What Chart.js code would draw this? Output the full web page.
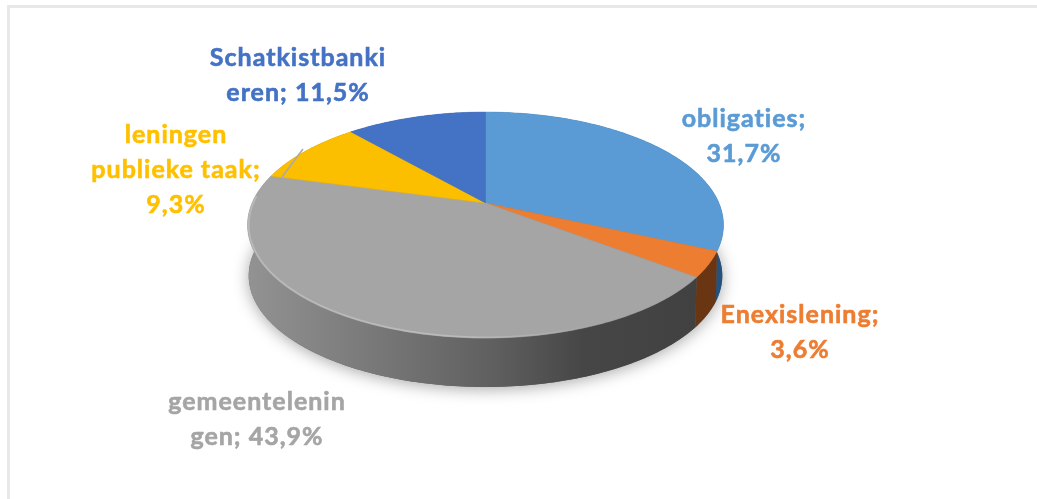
<!DOCTYPE html>
<html>
<head>
<meta charset="utf-8">
<style>
  html, body { margin: 0; padding: 0; background: #fff; overflow: hidden; }
  #frame { position: absolute; left: 7px; top: 5px; width: 1030px; height: 494px; border-top: 3px solid #e8e8e8; border-left: 3px solid #e8e8e8; box-sizing: border-box; }
  #pie { position: absolute; left: 0; top: 0; filter: blur(0.7px); }
</style>
</head>
<body>
<div id="frame"></div>
<canvas id="pie" width="1037" height="499"></canvas>
<script src="https://cdn.jsdelivr.net/npm/chart.js@4"></script>
<script>
const categories = ["obligaties", "Enexislening", "gemeenteleningen", "leningen publieke taak", "Schatkistbankieren"];
const values = [31.7, 3.6, 43.9, 9.3, 11.5];
const labelLines = [
  ["obligaties;", "31,7%"],
  ["Enexislening;", "3,6%"],
  ["gemeentelenin", "gen; 43,9%"],
  ["leningen", "publieke taak;", "9,3%"],
  ["Schatkistbanki", "eren; 11,5%"],
];
const topColors = ["#5b9bd5", "#ed7d31", "#a5a5a5", "#fcbf00", "#4472c4"];
const labelColors = ["#5b9bd5", "#ed7d31", "#a5a5a5", "#ffc000", "#4472c4"];
const wallColors = ["#23527f", "#693512", "#666666", "#8a6a00", "#2b4a80"];

// where each label block sits: centre x, centre y of first line
const labelPos = [[744, 119], [800, 315], [257, 402], [176, 135], [298, 58]];
const lineGap = 35;

// fake perspective of the tilted disc
const persp = 0.195;
const scaleX = 233.4 / 203;
const scaleY = 108.7 / 203;
const depth = 51;
const bottomShrinkX = 0.995;
const bottomShrinkY = 0.985;

function project(arc, angle) {
  const u = Math.cos(angle), v = Math.sin(angle);
  const d = 1 - persp * v;
  return {
    x: arc.x + (arc.outerRadius * scaleX * u) / d,
    y: arc.y + (arc.outerRadius * scaleY * v) / d,
  };
}

function projectBottom(arc, angle) {
  const p = project(arc, angle);
  return {
    x: arc.x + (p.x - arc.x) * bottomShrinkX,
    y: arc.y + (p.y - arc.y) * bottomShrinkY + depth,
  };
}

function traceRim(ctx, arc, from, to, fn) {
  const steps = Math.max(8, Math.ceil(Math.abs(to - from) * 60));
  for (let i = 0; i <= steps; i++) {
    const p = fn(arc, from + ((to - from) * i) / steps);
    ctx.lineTo(p.x, p.y);
  }
}

function wallPath(ctx, arc) {
  ctx.beginPath();
  traceRim(ctx, arc, arc.startAngle, arc.endAngle, project);
  traceRim(ctx, arc, arc.endAngle, arc.startAngle, projectBottom);
  ctx.closePath();
}

function drawTop(ctx) {
  // replaces the round arc of the library by the tilted one
  const start = project(this, this.startAngle);
  ctx.save();
  ctx.beginPath();
  ctx.moveTo(this.x, this.y);
  ctx.lineTo(start.x, start.y);
  traceRim(ctx, this, this.startAngle, this.endAngle, project);
  ctx.closePath();
  ctx.fillStyle = this.options.backgroundColor;
  ctx.fill();
  ctx.strokeStyle = this.options.backgroundColor;
  ctx.lineWidth = 0.5;
  ctx.stroke();
  ctx.restore();
}

const disc3d = {
  id: "disc3d",
  beforeDatasetsDraw(chart) {
    const ctx = chart.ctx;
    const arcs = chart.getDatasetMeta(0).data;
    arcs.forEach((arc) => { arc.draw = drawTop; });

    // soft shadow under the whole disc
    ctx.save();
    ctx.shadowColor = "rgba(0,0,0,0.35)";
    ctx.shadowBlur = 16;
    ctx.shadowOffsetY = 2;
    ctx.fillStyle = "#666";
    ctx.beginPath();
    traceRim(ctx, arcs[0], 0, Math.PI * 2, projectBottom);
    ctx.closePath();
    ctx.fill();
    ctx.restore();

    arcs.forEach((arc, i) => {
      ctx.save();
      wallPath(ctx, arc);
      if (i === 2) {
        const grad = ctx.createLinearGradient(250, 0, 695, 0);
        grad.addColorStop(0, "#929292");
        grad.addColorStop(0.25, "#7b7b7b");
        grad.addColorStop(0.55, "#5f5f5f");
        grad.addColorStop(0.75, "#464646");
        grad.addColorStop(1, "#414141");
        ctx.fillStyle = grad;
      } else {
        ctx.fillStyle = wallColors[i];
      }
      ctx.fill();
      ctx.restore();
    });
  },
  afterDatasetsDraw(chart) {
    const ctx = chart.ctx;
    const arcs = chart.getDatasetMeta(0).data;
    const gray = arcs[2];

    // light bevel along the front rim of the big slice, left side and bottom only
    ctx.save();
    const rim = ctx.createLinearGradient(250, 0, 600, 0);
    rim.addColorStop(0, "rgba(205,205,205,0.5)");
    rim.addColorStop(0.6, "rgba(205,205,205,0.55)");
    rim.addColorStop(1, "rgba(200,200,200,0)");
    ctx.strokeStyle = rim;
    ctx.lineWidth = 1.8;
    ctx.beginPath();
    traceRim(ctx, gray, gray.startAngle, Math.PI * 1.02, (a, t) => {
      const p = project(a, t);
      return { x: a.x + (p.x - a.x) * 0.995, y: a.y + (p.y - a.y) * 0.995 };
    });
    ctx.stroke();

    // leader line of the yellow label
    ctx.strokeStyle = "#a9a9a9";
    ctx.lineWidth = 1.6;
    ctx.beginPath();
    ctx.moveTo(282, 177);
    ctx.lineTo(303, 149);
    ctx.stroke();
    ctx.restore();

    // labels, the thin stroke makes them as heavy as the original
    ctx.save();
    ctx.font = 'bold 25px Lato, "Open Sans", sans-serif';
    ctx.letterSpacing = "1px";
    ctx.textAlign = "center";
    ctx.textBaseline = "middle";
    ctx.lineWidth = 0.6;
    labelLines.forEach((lines, i) => {
      ctx.fillStyle = labelColors[i];
      ctx.strokeStyle = labelColors[i];
      lines.forEach((line, j) => {
        ctx.fillText(line, labelPos[i][0], labelPos[i][1] + j * lineGap);
        ctx.strokeText(line, labelPos[i][0], labelPos[i][1] + j * lineGap);
      });
    });
    ctx.restore();
  },
};

new Chart(document.getElementById("pie").getContext("2d"), {
  type: "pie",
  data: {
    labels: categories,
    datasets: [{ data: values, backgroundColor: topColors, borderWidth: 0 }],
  },
  options: {
    responsive: false,
    animation: false,
    layout: { padding: { right: 66, bottom: 93 } },
    plugins: { legend: { display: false }, tooltip: { enabled: false } },
  },
  plugins: [disc3d],
});
</script>
</body>
</html>
